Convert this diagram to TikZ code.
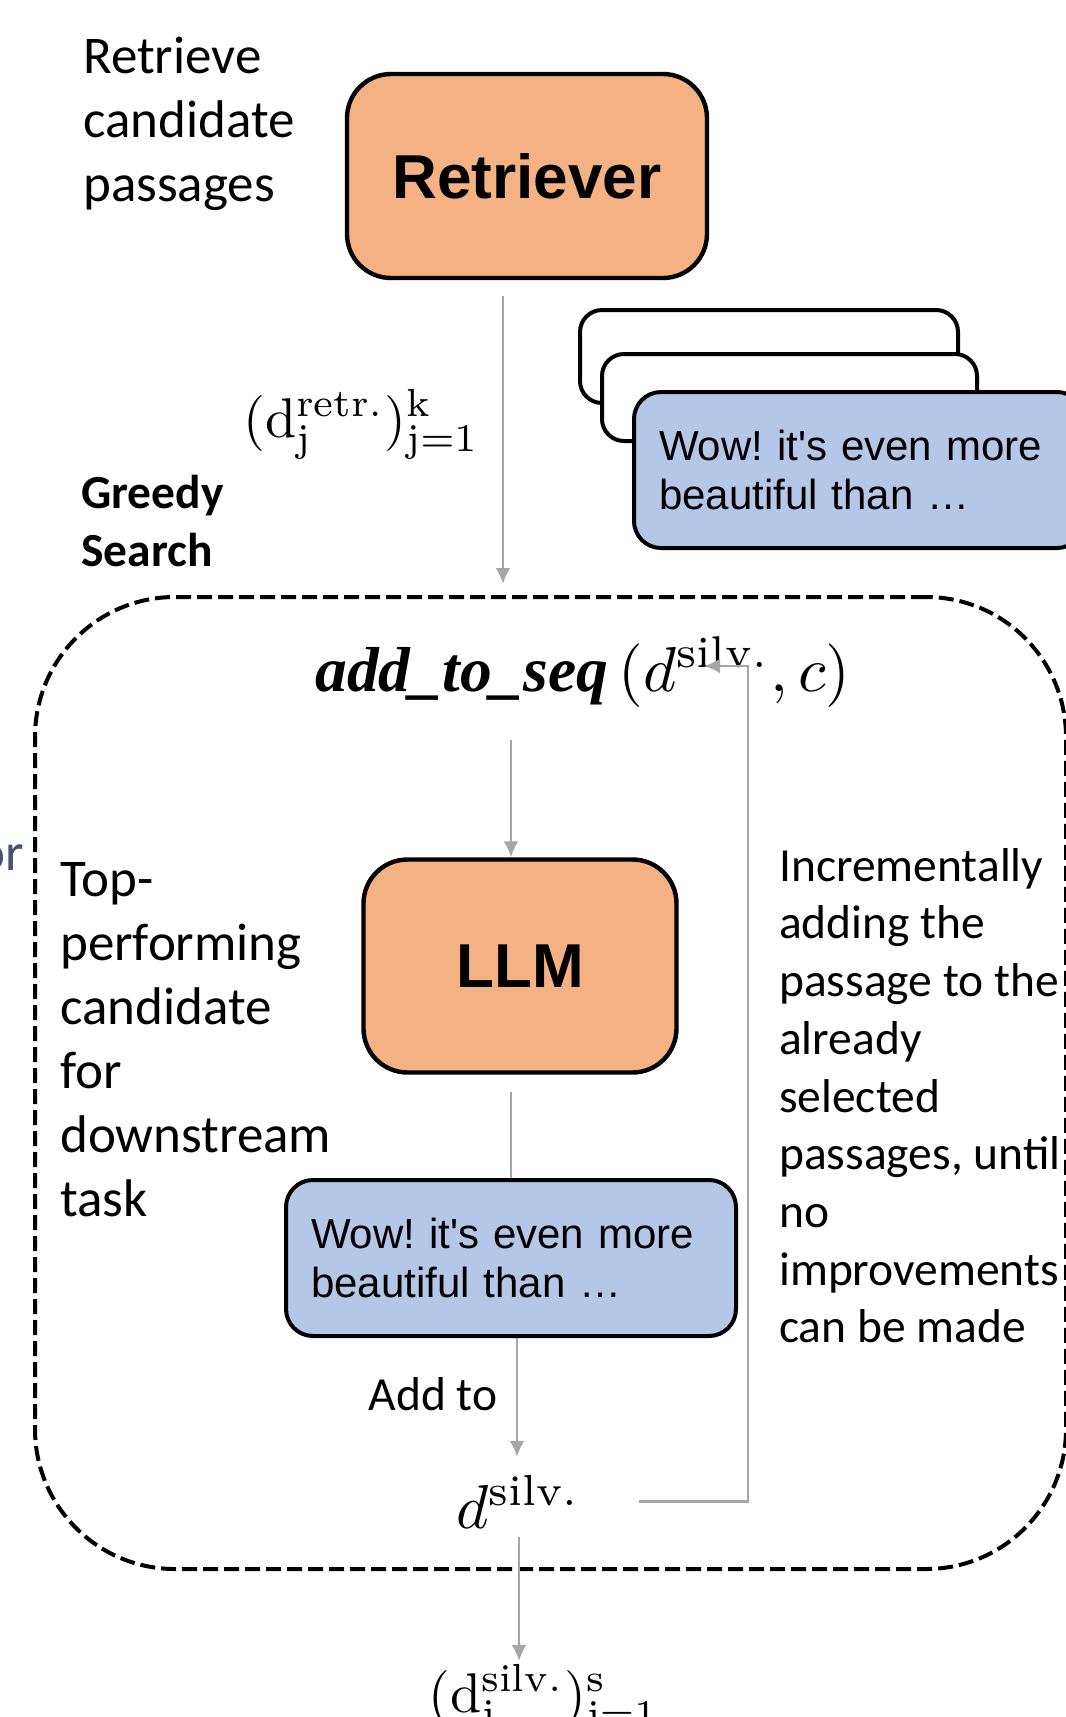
\documentclass[tikz,border=0pt]{standalone}
\usepackage{fontspec}
\usepackage{graphicx}
\usepackage{tikz}
\usetikzlibrary{positioning,arrows.meta}
\newfontfamily\calibri{Carlito}
\newfontfamily\arial{Liberation Sans}
\newfontfamily\cambria{Liberation Serif}
\definecolor{boxorange}{HTML}{F4B183}
\definecolor{boxblue}{HTML}{B4C7E7}
\definecolor{flowgray}{HTML}{A6A6A6}
\definecolor{slate}{HTML}{44546A}
\frenchspacing
\newcommand{\bignote}{\calibri\fontsize{53}{64}\selectfont}
\newcommand{\smallnote}{\calibri\fontsize{47.5}{57.7}\selectfont}
\newcommand{\mathlabel}[2]{\scalebox{#1}{$#2$}}

\begin{document}
\begin{tikzpicture}[
    x=1pt, y=-1pt,
    >={Latex[length=16pt,width=15pt]},
    model/.style={draw, line width=4.4pt, rounded corners=44pt, fill=boxorange,
                  font=\arial\bfseries\fontsize{62}{74}\selectfont},
    passage/.style={draw, line width=4pt, rounded corners=27pt, fill=boxblue,
                    text width=400pt, inner xsep=25pt, minimum height=156pt,
                    align=left, font=\arial\fontsize{42}{49}\selectfont},
    blank/.style={draw, line width=4pt, rounded corners=22pt, fill=white},
    note/.style={inner sep=0pt, align=left, font=\bignote},
    link/.style={draw=flowgray, line width=2.7pt},
    flow/.style={link, ->}]

    \useasboundingbox (0,0) rectangle (1066,1717);

    % greedy search loop
    \node[draw, line width=4pt, dash pattern=on 15pt off 6pt, rounded corners=140pt,
          minimum width=1031pt, minimum height=972pt] (search) at (550.5,1083) {};

    \node[note, anchor=north west] (retrieve) at (83,37) {Retrieve\\candidate\\passages};
    \node[model, minimum width=360pt, minimum height=204pt] (retriever) at (527,176) {Retriever};

    \node[blank, minimum width=378pt, minimum height=93pt, anchor=north west] (back1) at (578,308) {};
    \node[blank, minimum width=375pt, minimum height=87pt, anchor=north west] (back2) at (600,352) {};
    \node[passage, anchor=north west] (front) at (632,390) {Wow! it's even more\\beautiful than …};

    \node[anchor=base] (retr) at (361.5,437)
        {\mathlabel{5.6}{(\mathrm{d}_{\mathrm{j}}^{\mathrm{retr.}})_{\mathrm{j=1}}^{\mathrm{k}}}};
    \node[note, font=\smallnote\bfseries, anchor=north west] (greedy) at (81,475) {Greedy\\Search};

    \node[anchor=base] (addseq) at (583,691)
        {\mathlabel{6.35}{\mbox{\cambria\bfseries\itshape add\_to\_seq}\,(d^{\mathrm{silv.}},c)}};

    \node[note, text=slate, anchor=base east] (cut) at (24,870) {or};
    \node[note, anchor=north west] (top) at (60,862) {Top-\\performing\\candidate\\for\\downstream\\task};
    \node[model, minimum width=313pt, minimum height=213pt] (llm) at (520,966) {LLM};
    \node[note, font=\smallnote, anchor=north west] (incr) at (779,848)
        {Incrementally\\adding the\\passage to the\\already\\selected\\passages, until\\no\\improvements\\can be made};

    \node[passage] (out) at (511,1258) {Wow! it's even more\\beautiful than …};
    \node[note, font=\smallnote] (addto) at (433,1394) {Add to};
    \node[anchor=base] (dsilv) at (518,1528) {\mathlabel{6.2}{d^{\mathrm{silv.}}}};
    \node[anchor=base] (result) at (544,1712)
        {\mathlabel{5.6}{(\mathrm{d}_{\mathrm{j}}^{\mathrm{silv.}})_{\mathrm{j=1}}^{\mathrm{s}}}};

    \coordinate (turn) at (748,666);

    \draw[flow, shorten <=16pt, shorten >=11pt] ([xshift=-24pt]retriever.south) -- ([xshift=-24pt]retriever.south |- search.north);
    \draw[flow, shorten <=30pt] ([xshift=-9pt]llm.north |- addseq.south) -- ([xshift=-9pt]llm.north);
    \draw[link, shorten <=17pt] ([xshift=-9pt]llm.south) -- ([xshift=-9pt]llm.south |- out.north);
    \draw[flow, shorten >=15pt] ([xshift=6pt]out.south) -- ([xshift=6pt]out.south |- dsilv.north);
    \draw[flow, shorten <=56pt] (dsilv.east) -| (turn) -- ([xshift=-44pt]turn);
    \draw[flow, shorten <=5pt] ([xshift=1pt]dsilv.south) -- ([xshift=1pt]dsilv.south |- result.north);

\end{tikzpicture}
\end{document}
